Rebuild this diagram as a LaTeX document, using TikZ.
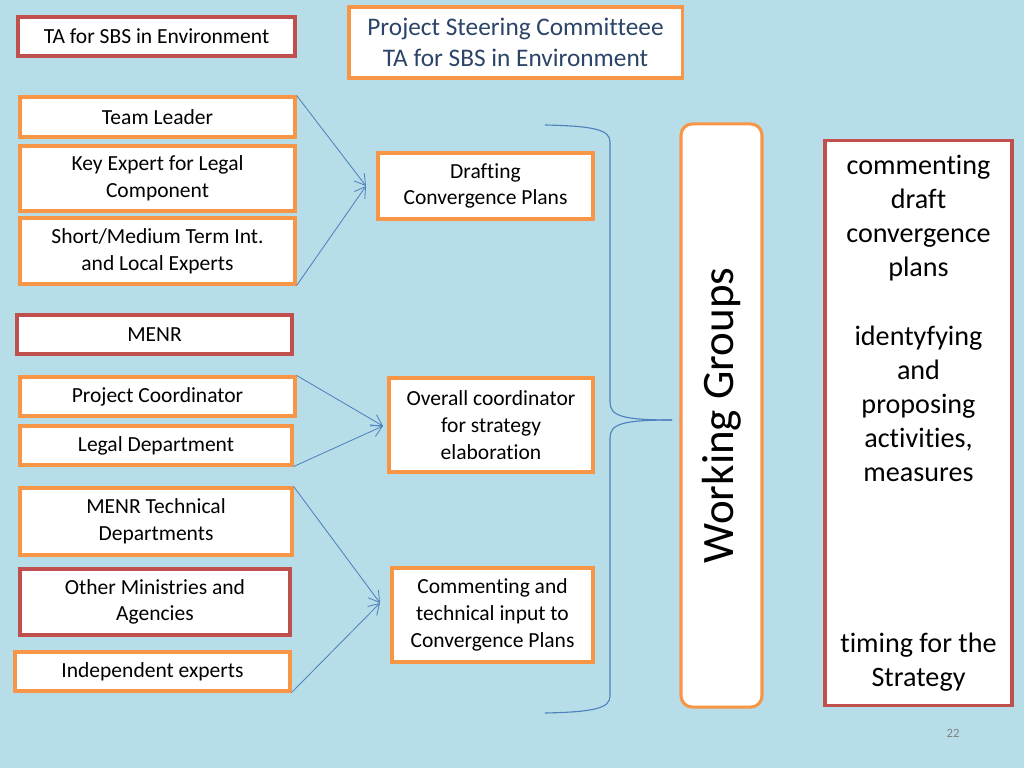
\documentclass[tikz,border=0pt]{standalone}
\usepackage{fontspec}
\setmainfont[Ligatures={NoCommon,NoRare}]{Carlito}
\usetikzlibrary{arrows.meta}
\definecolor{bgblue}{HTML}{B7DEE8}
\definecolor{boxorange}{HTML}{F79646}
\definecolor{boxred}{HTML}{C0504D}
\definecolor{linkblue}{HTML}{4F81BD}
\definecolor{titleblue}{HTML}{2B4468}
\tikzset{
  obox/.style={draw=boxorange, fill=white, line width=2.2pt, align=center, inner sep=1pt,
    font=\fontsize{15.3}{19}\selectfont},
  rbox/.style={obox, draw=boxred},
  link/.style={linkblue, line width=0.6pt, -{Straight Barb[length=2.6mm,width=3.2mm]}},
  big/.style={align=center, font=\fontsize{20}{24.2}\selectfont}
}
\begin{document}
\begin{tikzpicture}[x=0.025cm, y=-0.025cm]

\fill[bgblue] (0,0) rectangle (1024,768);
\useasboundingbox (0,0) rectangle (1024,768);

% left column
\node[rbox, minimum width=6.925cm, minimum height=0.975cm] (ta) at (156.5,36.5) {TA for SBS in Environment};
\node[obox, minimum width=8.325cm, minimum height=1.775cm, text=titleblue, font=\fontsize{18}{22}\selectfont] (psc) at (515.5,42.5) {Project Steering Committeee\\TA for SBS in Environment};

\node[obox, minimum width=6.875cm, minimum height=1cm] (lead) at (157.5,117) {Team Leader};
\node[obox, minimum width=6.875cm, minimum height=1.625cm] (key) at (157.5,178.5) {Key Expert for Legal\\Component};
\node[obox, minimum width=6.875cm, minimum height=1.65cm] (short) at (157.5,251) {Short/Medium Term Int.\\and Local Experts};

\node[rbox, minimum width=6.875cm, minimum height=0.975cm] (menr) at (154.5,334.5) {MENR};
\node[obox, minimum width=6.875cm, minimum height=0.975cm] (coord) at (157.5,396.5) {Project Coordinator};
\node[obox, minimum width=6.8cm, minimum height=0.975cm] (legal) at (156,445.5) {Legal Department};
\node[obox, minimum width=6.8cm, minimum height=1.675cm] (tech) at (156,521.5) {MENR Technical\\Departments};
\node[rbox, minimum width=6.75cm, minimum height=1.65cm] (other) at (155,602) {Other Ministries and\\Agencies};
\node[obox, minimum width=6.875cm, minimum height=0.975cm] (indep) at (152.5,671.5) {Independent experts};

% middle column
\node[obox, minimum width=5.375cm, minimum height=1.65cm] (draft) at (485.5,186) {Drafting\\Convergence Plans};
\node[obox, minimum width=5.1cm, minimum height=2.35cm] (overall) at (491,425) {Overall coordinator\\for strategy\\elaboration};
\node[obox, minimum width=5.025cm, minimum height=2.35cm] (comment) at (492.5,615) {Commenting and\\technical input to\\Convergence Plans};

\coordinate (tipa) at (366,186);
\coordinate (tipb) at (383,426);
\coordinate (tipc) at (380,603);

\draw[link] (lead.north east) -- (tipa);
\draw[link] (short.south east) -- (tipa);
\draw[link] (coord.north east) -- (tipb);
\draw[link] (legal.south east) -- (tipb);
\draw[link] (tech.north east) -- (tipc);
\draw[link] (indep.south east) -- (tipc);

% brace
\coordinate (bracetip) at (672,420);
\draw[linkblue, line width=0.8pt] (545,125) .. controls (595,126) and (610,130) .. (610,142) -- (610,402)
  .. controls (610,416) and (622,420) .. (bracetip);
\draw[linkblue, line width=0.8pt] (545,713) .. controls (595,712) and (610,708) .. (610,696) -- (610,438)
  .. controls (610,424) and (622,420) .. (bracetip);

% right column
\node[obox, rounded corners=8pt, minimum width=2.025cm, minimum height=14.575cm] (wg) at (721.5,415.5) {};
\node[rotate=90, font=\fontsize{32}{34}\selectfont] (wgtext) at (wg.center) {Working Groups};

\node[rbox, minimum width=4.675cm, minimum height=14.1cm] (tasks) at (918.5,423) {};
\node[big, anchor=north] (taska) at (918.5,150) {commenting\\draft\\convergence\\plans};
\node[big, anchor=north] (taskb) at (918.5,321) {identyfying\\and\\proposing\\activities,\\measures};
\node[big, anchor=north] (taskc) at (918.5,628) {timing for the\\Strategy};

\node[text=gray, font=\rmfamily\small] (page) at (953,733) {22};

\end{tikzpicture}
\end{document}
